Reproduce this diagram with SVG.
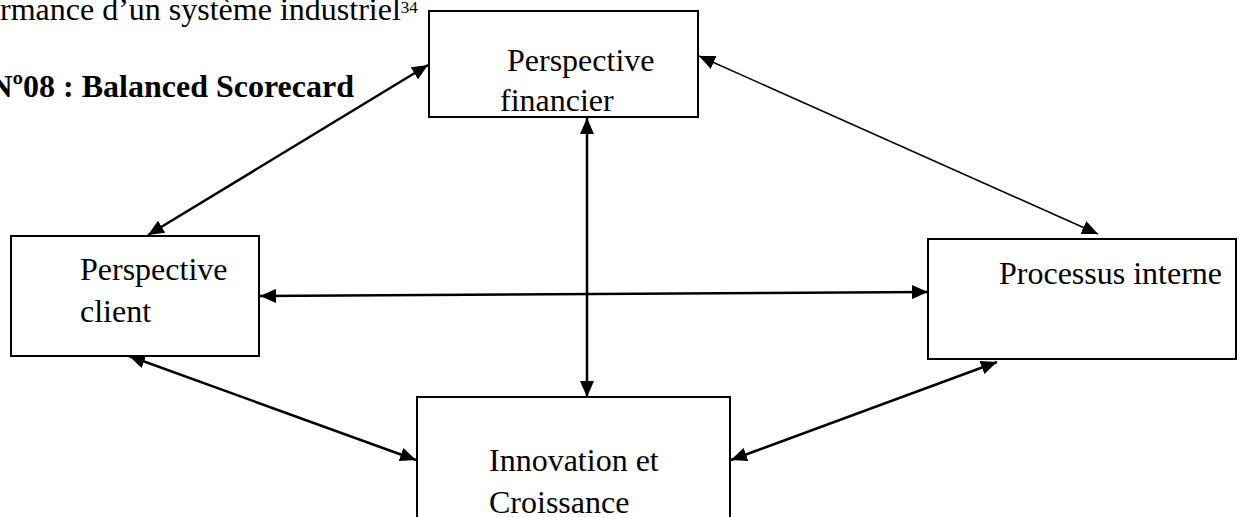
<svg xmlns="http://www.w3.org/2000/svg" width="1243" height="517" viewBox="0 0 1243 517">
<style>
  .box { fill: #ffffff; stroke: #000000; stroke-width: 2; }
  .lbl { font-family: "Liberation Serif", "Times New Roman", serif; font-size: 32px; fill: #000000; }
  .bold { font-weight: bold; }
  .con { stroke: #000000; stroke-width: 2.5; fill: none; marker-start: url(#ah); marker-end: url(#ah); }
  .thin { stroke-width: 1.5; }
</style>
<defs>
  <marker id="ah" markerUnits="userSpaceOnUse" markerWidth="16" markerHeight="14" refX="16" refY="7" orient="auto-start-reverse" viewBox="0 0 16 14">
    <path d="M0,0 L16,7 L0,14 z" fill="#000000"/>
  </marker>
</defs>
<rect width="1243" height="517" fill="#ffffff"/>
<g id="header">
  <text class="lbl" x="0" y="20">rmance d’un système industriel<tspan font-size="17" dy="-7">34</tspan></text>
  <text class="lbl bold" x="354" y="97" text-anchor="end">Nº08 : Balanced Scorecard</text>
</g>
<g id="connectors">
  <line class="con" x1="428" y1="65" x2="148" y2="235"/>
  <line class="con thin" x1="699" y1="56" x2="1098" y2="234"/>
  <line class="con" x1="587" y1="118" x2="587" y2="397"/>
  <line class="con" x1="260" y1="296" x2="928" y2="292"/>
  <line class="con" x1="129" y1="356" x2="416" y2="460"/>
  <line class="con" x1="731" y1="460" x2="997" y2="362"/>
</g>
<g id="node-financier">
  <rect class="box" x="429" y="11" width="269" height="106"/>
  <text class="lbl" x="507" y="71">Perspective</text>
  <text class="lbl" x="500" y="111">financier</text>
</g>
<g id="node-client">
  <rect class="box" x="11" y="236" width="248" height="120"/>
  <text class="lbl" x="80" y="280">Perspective</text>
  <text class="lbl" x="80" y="322">client</text>
</g>
<g id="node-processus">
  <rect class="box" x="928" y="239" width="308" height="120"/>
  <text class="lbl" x="999" y="284">Processus interne</text>
</g>
<g id="node-innovation">
  <rect class="box" x="417" y="397" width="313" height="140"/>
  <text class="lbl" x="489" y="471">Innovation et</text>
  <text class="lbl" x="489" y="513">Croissance</text>
</g>
</svg>
